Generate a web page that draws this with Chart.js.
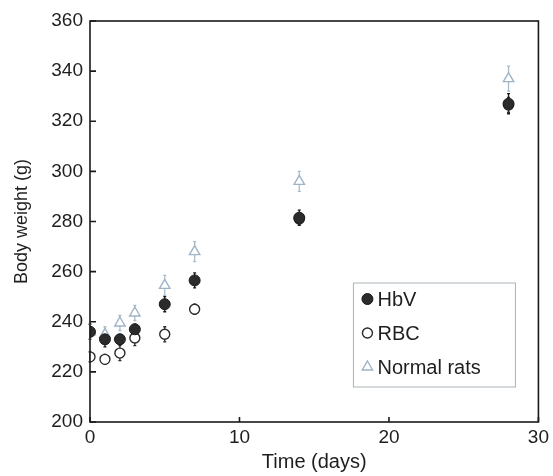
<!DOCTYPE html>
<html>
<head>
<meta charset="utf-8">
<script src="https://cdn.jsdelivr.net/npm/chart.js@4"></script>
<style>
  body { margin: 0; background: #fff; }
  #wrap { width: 553px; height: 476px; }
</style>
</head>
<body>
<div id="wrap"><canvas id="chart" width="553" height="476"></canvas></div>
<script>
const days = [0, 1, 2, 3, 5, 7, 14, 28];
const hbv = [236, 233, 233, 237, 247, 256.5, 281.5, 327];
const rbc = [226, 225, 227.5, 233.5, 235, 245, 281, 326.5];
const normalRats = [236, 235, 239.5, 243.5, 254.5, 268, 296, 337];
const hbvErr = [3, 3, 2, 2, 3, 3, 3, 4];
const rbcErr = [2, 2, 3, 3, 3, 2, 2, 3];
const normalErr = [3, 3, 3, 3, 4, 4, 4, 5];
const seriesNames = ["HbV", "RBC", "Normal rats"];
const xTicks = [0, 10, 20, 30];
const yTicks = [200, 220, 240, 260, 280, 300, 320, 340, 360];

const FONT = "'Liberation Sans', Arial, sans-serif";
const toPoints = (vals) => vals.map((v, i) => ({ x: days[i], y: v }));
const errors = [hbvErr, rbcErr, normalErr];

// error bars under the markers
const errorBars = {
  id: "errorBars",
  beforeDatasetsDraw(chart) {
    const { ctx, scales: { x, y } } = chart;
    chart.data.datasets.forEach((ds, i) => {
      ctx.save();
      ctx.strokeStyle = ds.errorColor;
      ctx.lineWidth = 1.3;
      ds.data.forEach((p, j) => {
        const px = x.getPixelForValue(p.x);
        const top = y.getPixelForValue(p.y + errors[i][j]);
        const bot = y.getPixelForValue(p.y - errors[i][j]);
        ctx.beginPath();
        ctx.moveTo(px, top);
        ctx.lineTo(px, bot);
        ctx.moveTo(px - 1.5, top);
        ctx.lineTo(px + 1.5, top);
        ctx.moveTo(px - 1.5, bot);
        ctx.lineTo(px + 1.5, bot);
        ctx.stroke();
      });
      ctx.restore();
    });
  }
};

// closed box + inward ticks
const frame = {
  id: "frame",
  afterDraw(chart) {
    const { ctx, chartArea: a, scales: { x, y } } = chart;
    ctx.save();
    ctx.strokeStyle = "#1a1a1a";
    ctx.lineWidth = 1.6;
    ctx.strokeRect(a.left, a.top, a.right - a.left, a.bottom - a.top);
    ctx.beginPath();
    xTicks.forEach((t) => {
      const px = x.getPixelForValue(t);
      ctx.moveTo(px, a.bottom);
      ctx.lineTo(px, a.bottom - 5);
    });
    yTicks.forEach((t) => {
      const py = y.getPixelForValue(t);
      ctx.moveTo(a.left, py);
      ctx.lineTo(a.left + 6, py);
    });
    ctx.stroke();
    ctx.restore();
  }
};

// legend box inside the plot
const insideLegend = {
  id: "insideLegend",
  afterDraw(chart) {
    const { ctx, chartArea: a } = chart;
    const left = a.right - 185, top = a.top + 262, w = 162, h = 104;
    ctx.save();
    ctx.strokeStyle = "#a9b3b8";
    ctx.lineWidth = 1;
    ctx.strokeRect(left, top, w, h);
    ctx.font = "20px " + FONT;
    ctx.textBaseline = "middle";
    ctx.fillStyle = "#1e1e1e";
    chart.data.datasets.forEach((ds, i) => {
      const cy = top + 16 + i * 34;
      ctx.save();
      ctx.fillStyle = ds.pointBackgroundColor;
      ctx.strokeStyle = ds.pointBorderColor;
      ctx.lineWidth = ds.pointBorderWidth;
      Chart.helpers.drawPoint(ctx, {
        pointStyle: ds.pointStyle,
        radius: ds.pointRadius,
        rotation: 0,
        borderWidth: ds.pointBorderWidth
      }, left + 14, cy);
      ctx.restore();
      ctx.fillText(ds.label, left + 24, cy + 1);
    });
    ctx.restore();
  }
};

new Chart(document.getElementById("chart"), {
  type: "scatter",
  data: {
    datasets: [
      {
        label: seriesNames[0],
        data: toPoints(hbv),
        pointStyle: "circle",
        pointRadius: 5.5,
        pointBackgroundColor: "#2b2b2b",
        pointBorderColor: "#1a1a1a",
        pointBorderWidth: 1,
        errorColor: "#1a1a1a"
      },
      {
        label: seriesNames[1],
        data: toPoints(rbc),
        pointStyle: "circle",
        pointRadius: 5,
        pointBackgroundColor: "#ffffff",
        pointBorderColor: "#2a2a2a",
        pointBorderWidth: 1.4,
        errorColor: "#2a2a2a"
      },
      {
        label: seriesNames[2],
        data: toPoints(normalRats),
        pointStyle: "triangle",
        pointRadius: 6,
        pointBackgroundColor: "#ffffff",
        pointBorderColor: "#9fb4c6",
        pointBorderWidth: 1.4,
        errorColor: "#a9bccb"
      }
    ]
  },
  options: {
    responsive: false,
    animation: false,
    layout: { padding: { top: 21, right: 13, left: 0, bottom: 2 } },
    plugins: {
      legend: { display: false },
      tooltip: { enabled: false }
    },
    scales: {
      x: {
        type: "linear",
        min: 0,
        max: 30,
        afterFit: (s) => { s.height = 52; },
        afterBuildTicks: (s) => { s.ticks = xTicks.map((v) => ({ value: v })); },
        grid: { display: false, drawTicks: false },
        border: { display: false },
        ticks: { color: "#1e1e1e", padding: 4, font: { family: FONT, size: 19 } },
        title: {
          display: true,
          text: "Time (days)",
          color: "#1e1e1e",
          padding: { top: 0, bottom: 0 },
          font: { family: FONT, size: 20 }
        }
      },
      y: {
        type: "linear",
        min: 200,
        max: 360,
        afterFit: (s) => { s.width = 90; },
        afterBuildTicks: (s) => { s.ticks = yTicks.map((v) => ({ value: v })); },
        grid: { display: false, drawTicks: false },
        border: { display: false },
        ticks: { color: "#1e1e1e", padding: 7, font: { family: FONT, size: 19 } },
        title: {
          display: true,
          text: "Body weight (g)",
          color: "#1e1e1e",
          padding: { top: 11, bottom: 0 },
          font: { family: FONT, size: 18 }
        }
      }
    }
  },
  plugins: [errorBars, frame, insideLegend]
});
</script>
</body>
</html>
